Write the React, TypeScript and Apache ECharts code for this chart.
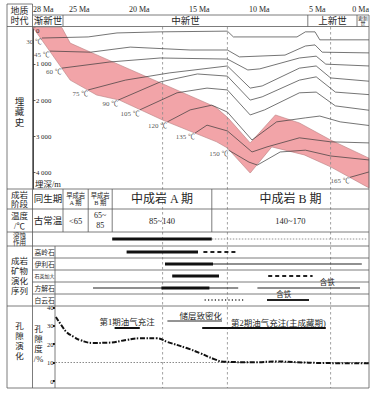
import React, { useEffect, useRef } from 'react';
import * as echarts from 'echarts';

// ---------------- data ----------------
const maTicks = [0, 5, 10, 15, 20, 25, 28];
const depthTicks = [0, 1000, 2000, 3000, 4000];

const epochNames = ['渐新世', '中新世', '上新世', '更新世'];
const epochBounds = [28, 25.5, 5.1, 1.0, 0];

const markerAges = [17.2, 11.8, 3.2];

// burial history of the formation: [Ma, depth m]
const formationTop = [
  [28, 0], [25.6, 0], [24.9, 430], [23.2, 680], [12.8, 2190], [11.75, 2490],
  [9.9, 3180], [7.8, 2410], [5.8, 2630], [3.2, 3100], [0, 3600],
];
const formationBase = [
  [28, 0], [24.9, 1450], [22.7, 1860], [20.8, 2000], [17.2, 2550], [12.7, 3150],
  [11.8, 3320], [9.9, 4010], [8.1, 3290], [5.4, 3510], [3.2, 3840], [0, 4420],
];

const isothermTemps = [30, 45, 60, 75, 90, 105, 120, 135, 150, 165];
const iso30 = [[27.25, 290], [23.4, 260], [21.0, 150], [17.4, 120], [11.8, 100], [11.3, 260], [6.0, 260], [5.3, 120], [4.5, 120], [4.1, 340], [0, 340]];
const iso45 = [[26.6, 650], [23.2, 680], [19.9, 540], [14.9, 620], [11.8, 620], [10.8, 810], [7.0, 760], [5.3, 510], [4.5, 480], [3.9, 680], [0, 700]];
const iso60 = [[25.6, 1120], [21.6, 950], [17.4, 840], [11.8, 870], [10.1, 1170], [9.1, 1140], [5.8, 840], [4.4, 790], [3.6, 1010], [0, 1060]];
const iso75 = [[23.4, 1720], [20.3, 1450], [16.6, 1250], [11.8, 1060], [9.9, 1670], [8.9, 1610], [5.8, 1120], [4.4, 1060], [3.2, 1390], [0, 1480]];
const iso90 = [[20.9, 2000], [17.4, 1500], [14.3, 1280], [11.8, 1340], [9.9, 2000], [8.9, 1910], [5.8, 1450], [4.4, 1360], [2.8, 1780], [0, 1850]];
const iso105 = [[19.1, 2270], [16.0, 1800], [13.5, 1670], [11.8, 1720], [9.9, 2410], [8.7, 2270], [5.8, 1800], [4.4, 1780], [2.8, 2160], [0, 2280]];
const iso120 = [[16.8, 2600], [14.9, 2270], [13.1, 2140], [11.8, 2330], [9.75, 3100], [7.7, 2600], [5.3, 2490], [4.1, 2440], [2.4, 2600], [0, 2700]];
const iso135 = [[14.5, 2910], [13.5, 2690], [11.8, 2850], [9.75, 3430], [8.5, 3290], [5.8, 3040], [3.2, 3150], [0, 3180]];
const iso150 = [[11.7, 3380], [10.0, 3710], [9.3, 3790], [7.4, 3430], [5.3, 3380], [3.2, 3540], [0, 3650]];
const iso165 = [[1.6, 4130], [0, 3980]];
const isotherms = [iso30, iso45, iso60, iso75, iso90, iso105, iso120, iso135, iso150, iso165];

const stageNames = ['同生期', '早成岩\nA 期', '早成岩\nB 期', '中成岩 A 期', '中成岩 B 期'];
const stageTemps = ['古常温', '<65', '65~\n85', '85~140', '140~170'];
const stageBounds = [28, 25.5, 23.4, 21.4, 13.1, 0];

const dissolutionLabel = ['溶蚀\n作用'];
const dissStart = [21.4, 13.1];
const dissEnd = [13.1, 0.2];
const dissKind = ['thick', 'faint'];

const minerals = ['高岭石', '伊利石', '石英加大', '方解石', '白云石'];
const segRow = [0, 0, 1, 1, 2, 2, 3, 3, 3, 4, 4];
const segStart = [20.2, 13.8, 17.0, 13.0, 16.4, 8.4, 23.0, 17.3, 9.3, 13.7, 8.5];
const segEnd = [14.25, 11.1, 13.0, 0.6, 12.5, 4.7, 10.9, 13.3, 0.75, 10.3, 5.0];
const segKind = ['thick', 'dashed', 'thick', 'thin', 'thick', 'dashed', 'thin', 'thick', 'thin', 'dotted', 'medium'];
const segNote = ['', '', '', '', '', '', '', '', '含铁', '', '含铁'];

const porosityAge = [26.1, 25.6, 25.2, 24.6, 24.1, 23.0, 21.8, 20.2, 19.1, 17.7, 16.8, 15.2, 14.1, 12.9, 12.1, 9.6, 7.7, 6.0, 4.1, 0];
const porosityValue = [34.8, 30.0, 26.6, 24.0, 22.3, 20.7, 20.8, 22.3, 23.2, 23.2, 21.2, 17.9, 15.2, 11.9, 10.5, 10.2, 10.6, 10.2, 9.8, 9.6];
const porosityRef = 10;

const eventNames = ['第1期油气充注', '储层致密化', '第2期油气充注(主成藏期)'];
const eventStart = [21.2, 16.8, 13.9];
const eventEnd = [19.1, 12.25, 3.6];

// ---------------- layout / style ----------------
const FONT = '"Liberation Serif","Noto Sans CJK SC",serif';
const INK = '#262626';
const RULE = '#5a5a5a';
const X0 = 7, XL = 32.5, XA = 33, XR = 369, XP = 55;
const PX_PER_MA = (XR - XA) / 28;
const POR_MAX_MA = 28 - (XP - XA) / PX_PER_MA;
const EPOCH_Y = 20.75;
const STAGE_Y1 = 199, STAGE_Y2 = 220.5, STAGE_TOP = 189, STAGE_BOT = 232;
const noteAnchor: any = { 8: 0.68, 10: 0.4 };
const eventLayout = [
  { barY: 328, textY: 322, w: 2, align: 'center' },
  { barY: 321, textY: 316, w: 0.9, align: 'right' },
  { barY: 328, textY: 322.5, w: 2, align: 'right' },
];
const kindStyle: any = {
  thick: { lineWidth: 3.2, stroke: '#111' },
  medium: { lineWidth: 2, stroke: '#222' },
  thin: { lineWidth: 1.1, stroke: '#222' },
  dashed: { lineWidth: 2, stroke: '#222', lineDash: [4, 3] },
  dotted: { lineWidth: 1.4, stroke: '#333', lineDash: [1.2, 2.2] },
  faint: { lineWidth: 0.8, stroke: '#777', lineDash: [1.5, 1.5] },
};

function ts(text: string, size: number, extra: any = {}) {
  return {
    text, fontSize: size, fontFamily: FONT, fill: INK,
    align: 'center', verticalAlign: 'middle', textAlign: 'center', textVerticalAlign: 'middle',
    lineHeight: size * 1.15, ...extra,
  };
}
function gtxt(x: number, y: number, text: string, size: number, extra: any = {}) {
  return { type: 'text', x, y, silent: true, z: 50, style: ts(text, size, extra) };
}
function gln(x1: number, y1: number, x2: number, y2: number, w = 0.8, color = RULE) {
  return { type: 'line', silent: true, z: 40, shape: { x1, y1, x2, y2 }, style: { stroke: color, lineWidth: w } };
}

function segmentRenderer(starts: number[], ends: number[], kinds: string[], rows: number[] | null, notes: string[] | null) {
  return (params: any, api: any) => {
    const i = params.dataIndex;
    const row = rows ? rows[i] : 0;
    const p1 = api.coord([starts[i], row]);
    const p2 = api.coord([ends[i], row]);
    const children: any[] = [
      { type: 'line', shape: { x1: p1[0], y1: p1[1], x2: p2[0], y2: p2[1] }, style: { ...kindStyle[kinds[i]] } },
    ];
    if (notes && notes[i]) {
      const r = noteAnchor[i] != null ? noteAnchor[i] : 0.5;
      children.push({ type: 'text', x: p1[0] + (p2[0] - p1[0]) * r, y: p1[1] - 6, style: ts(notes[i], 7.5) });
    }
    return { type: 'group', children };
  };
}

function buildOption() {
  const series: any[] = [];

  // formation band
  series.push({
    type: 'custom', xAxisIndex: 0, yAxisIndex: 0, z: 1, silent: true, clip: false,
    data: [[0, 0]],
    renderItem: (_p: any, api: any) => {
      const pts = formationTop.concat(formationBase.slice().reverse()).map((p) => api.coord(p));
      return { type: 'polygon', shape: { points: pts }, style: { fill: '#f2a4a8', stroke: '#b97d80', lineWidth: 0.6 } };
    },
  });

  // isotherms
  isotherms.forEach((pts) => {
    series.push({
      type: 'line', xAxisIndex: 0, yAxisIndex: 0, z: 3, silent: true, data: pts,
      symbol: 'none', lineStyle: { color: '#3a3a3a', width: 0.7 },
    });
  });
  series.push({
    type: 'scatter', xAxisIndex: 0, yAxisIndex: 0, z: 4, silent: true,
    symbol: 'circle', symbolSize: 0.1, itemStyle: { color: 'rgba(0,0,0,0)' },
    data: isotherms.map((pts, i) => ({ value: pts[0], name: `${isothermTemps[i]} ℃` })),
    label: {
      show: true, position: 'left', distance: 1, offset: [1, 4], formatter: '{b}',
      fontSize: 7, fontFamily: FONT, color: INK,
    },
  });

  // epochs row
  series.push({
    type: 'custom', xAxisIndex: 0, yAxisIndex: 0, z: 5, silent: true, clip: false,
    data: epochNames.map((_, i) => [epochBounds[i], 0]),
    renderItem: (params: any, api: any) => {
      const i = params.dataIndex;
      const x1 = api.coord([epochBounds[i], 0])[0];
      const x2 = api.coord([epochBounds[i + 1], 0])[0];
      const narrow = x2 - x1 < 20;
      const name = epochNames[i];
      const children: any[] = [{
        type: 'text', x: (x1 + x2) / 2, y: EPOCH_Y,
        style: narrow ? ts(name.slice(0, 2) + '\n' + name.slice(2), 5, { lineHeight: 5.5 }) : ts(name, 9.5),
      }];
      if (i < epochNames.length - 1) {
        children.push({ type: 'line', shape: { x1: x2, y1: 15, x2: x2, y2: 26.5 }, style: { stroke: RULE, lineWidth: 0.8 } });
      }
      return { type: 'group', children };
    },
  });

  // stages & temperatures
  series.push({
    type: 'custom', xAxisIndex: 4, yAxisIndex: 4, z: 6, silent: true, clip: false,
    data: stageNames.map((_, i) => [stageBounds[i], 0]),
    renderItem: (params: any, api: any) => {
      const i = params.dataIndex;
      const x1 = api.coord([stageBounds[i], 0])[0];
      const x2 = api.coord([stageBounds[i + 1], 0])[0];
      const cx = (x1 + x2) / 2;
      const nm = stageNames[i];
      const tp = stageTemps[i];
      const nmStyle = nm.indexOf('中成岩') >= 0 ? ts(nm, 12) : nm.indexOf('早成岩') >= 0 ? ts(nm, 6.3, { lineHeight: 7.5 }) : ts(nm, 9.5);
      const tpStyle = tp === '古常温' ? ts(tp, 9.5) : tp.indexOf('\n') >= 0 ? ts(tp, 8, { lineHeight: 10.5 }) : ts(tp, 8.5);
      const children: any[] = [
        { type: 'text', x: cx, y: STAGE_Y1, style: nmStyle },
        { type: 'text', x: cx, y: STAGE_Y2, style: tpStyle },
      ];
      if (i < stageNames.length - 1) {
        children.push({ type: 'line', shape: { x1: x2, y1: STAGE_TOP, x2: x2, y2: STAGE_BOT }, style: { stroke: RULE, lineWidth: 0.8 } });
      }
      return { type: 'group', children };
    },
  });

  // dashed time markers
  series.push({
    type: 'custom', xAxisIndex: 4, yAxisIndex: 4, z: 2, silent: true, clip: false,
    data: markerAges.map((a) => [a, 0]),
    renderItem: (params: any, api: any) => {
      const x = api.coord([markerAges[params.dataIndex], 0])[0];
      const cs = params.coordSys;
      return { type: 'line', shape: { x1: x, y1: cs.y, x2: x, y2: cs.y + cs.height }, style: { stroke: '#8a8a8a', lineWidth: 0.8, lineDash: [2.5, 2.5] } };
    },
  });

  // dissolution
  series.push({
    type: 'custom', xAxisIndex: 1, yAxisIndex: 1, z: 6, silent: true, clip: false,
    data: dissStart.map((s) => [s, 0]),
    renderItem: segmentRenderer(dissStart, dissEnd, dissKind, null, null),
  });

  // minerals
  series.push({
    type: 'custom', xAxisIndex: 2, yAxisIndex: 2, z: 6, silent: true, clip: false,
    data: segStart.map((s, i) => [s, segRow[i]]),
    renderItem: segmentRenderer(segStart, segEnd, segKind, segRow, segNote),
  });

  // porosity
  series.push({
    type: 'line', xAxisIndex: 3, yAxisIndex: 3, z: 6, silent: true, smooth: 0.5,
    data: porosityAge.map((a, i) => [a, porosityValue[i]]),
    symbol: 'none', lineStyle: { color: '#111', width: 2, type: [5, 1.5, 1.5, 1.5] },
    markLine: {
      silent: true, symbol: ['none', 'none'], label: { show: false },
      lineStyle: { color: '#8a8a8a', type: [1.5, 1.5], width: 1 },
      data: [{ yAxis: porosityRef }],
    },
  });

  // charging events
  series.push({
    type: 'custom', xAxisIndex: 3, yAxisIndex: 3, z: 7, silent: true, clip: false,
    data: eventStart.map((s) => [s, 0]),
    renderItem: (params: any, api: any) => {
      const i = params.dataIndex;
      const L = eventLayout[i];
      const x1 = api.coord([eventStart[i], 0])[0];
      const x2 = api.coord([eventEnd[i], 0])[0];
      const tx = L.align === 'center' ? (x1 + x2) / 2 : x2;
      return {
        type: 'group',
        children: [
          { type: 'line', shape: { x1, y1: L.barY, x2, y2: L.barY }, style: { stroke: '#111', lineWidth: L.w } },
          { type: 'text', x: tx, y: L.textY, style: ts(eventNames[i], 8.5, { align: L.align, textAlign: L.align }) },
        ],
      };
    },
  });

  const hiddenX = (grid: number, max = 28) => ({
    gridIndex: grid, type: 'value', min: 0, max, inverse: true, show: false,
    axisLine: { show: false, onZero: false },
    splitLine: { show: false },
  });

  const graphics: any[] = [
    // frame
    gln(X0, 4, XL, 4),
    gln(XL, 15, XR, 15),
    gln(X0, 26.5, XR, 26.5),
    gln(X0, 189, XR, 189),
    gln(X0, 209, XR, 209),
    gln(X0, 232, XR, 232),
    gln(X0, 246, XR, 246),
    gln(XL, 258, XR, 258),
    gln(XL, 270, XR, 270),
    gln(XL, 282, XR, 282),
    gln(XL, 294, XR, 294),
    gln(X0, 306, XR, 306),
    gln(X0, 388, XR, 388),
    gln(X0, 4, X0, 388),
    gln(XL, 4, XL, 388),
    gln(XR, 15, XR, 388),
    gln(XP, 246, XP, 388),
    // titles
    gtxt(19.5, 15.5, '地质\n时代', 9, { lineHeight: 10 }),
    gtxt(19.5, 112, '埋\n藏\n史', 9.5, { lineHeight: 10.5 }),
    gtxt(35, 184, '埋深/m', 8.5, { align: 'left', textAlign: 'left' }),
    gtxt(36, 30.8, String(depthTicks[0]), 6.8, { align: 'left', textAlign: 'left' }),
    gtxt(19.5, 199, '成岩\n阶段', 8.5, { lineHeight: 9 }),
    gtxt(19.5, 220.5, '温度\n/℃', 8.5, { lineHeight: 10 }),
    gtxt(19.5, 276, '成岩\n矿物\n演化\n序列', 8.5, { lineHeight: 10 }),
    gtxt(19.5, 341, '孔\n隙\n演\n化', 8.5, { lineHeight: 10 }),
    gtxt(38.5, 344, '孔\n隙\n度\n/%', 8.5, { lineHeight: 10 }),
  ];

  return {
    animation: false,
    backgroundColor: '#ffffff',
    textStyle: { fontFamily: FONT },
    grid: [
      { left: XA, top: 27.5, width: XR - XA, height: 161.5, outerBoundsMode: 'none' },
      { left: XA, top: 232, width: XR - XA, height: 14, outerBoundsMode: 'none' },
      { left: XA, top: 246, width: XR - XA, height: 60, outerBoundsMode: 'none' },
      { left: XP, top: 307.4, width: XR - XP, height: 73.6, outerBoundsMode: 'none' },
      { left: XA, top: 27, width: XR - XA, height: 361, outerBoundsMode: 'none' },
    ],
    xAxis: [
      {
        gridIndex: 0, type: 'value', min: 0, max: 28, interval: 5, inverse: true, position: 'top', offset: 12,
        axisLine: { show: false, onZero: false }, axisTick: { show: false }, splitLine: { show: false },
        axisLabel: {
          show: true, customValues: maTicks, formatter: (v: number) => `${v} Ma`,
          fontSize: 8, color: INK, fontFamily: FONT, margin: 2,
          align: 'left', alignMinLabel: 'right', alignMaxLabel: 'left', showMaxLabel: true, showMinLabel: true,
        },
      },
      hiddenX(1), hiddenX(2), hiddenX(3, POR_MAX_MA), hiddenX(4),
    ],
    yAxis: [
      {
        gridIndex: 0, type: 'value', min: 0, max: 4450, interval: 1000, inverse: true, position: 'left',
        axisLine: { show: true, onZero: false, lineStyle: { color: '#333', width: 0.9 } },
        axisTick: { show: true, inside: true, length: 2.5, customValues: depthTicks, lineStyle: { color: '#333', width: 0.8 } },
        axisLabel: {
          inside: true, customValues: depthTicks, margin: 3, fontSize: 6.8, color: INK, fontFamily: FONT,
          showMaxLabel: true,
          formatter: (v: number) => (v === 0 ? '' : `${Math.floor(v / 1000)} ${String(v % 1000).padStart(3, '0')}`),
        },
        splitLine: { show: false },
      },
      {
        gridIndex: 1, type: 'category', data: dissolutionLabel, inverse: true, position: 'left',
        axisLine: { show: false, onZero: false }, axisTick: { show: false }, splitLine: { show: false },
        axisLabel: { margin: 7, fontSize: 6.5, lineHeight: 7, color: INK, fontFamily: FONT },
      },
      {
        gridIndex: 2, type: 'category', data: minerals, inverse: true, position: 'left',
        axisLine: { show: false, onZero: false }, axisTick: { show: false }, splitLine: { show: false },
        axisLabel: {
          inside: true, margin: 1.5, fontSize: 6.8, color: INK, fontFamily: FONT,
          formatter: (v: string) => (v.length > 3 ? `{s|${v}}` : v),
          rich: { s: { fontSize: 5, fontFamily: FONT, color: INK } },
        },
      },
      {
        gridIndex: 3, type: 'value', min: 0, max: 40, interval: 10, position: 'left',
        axisLine: { show: false, onZero: false },
        axisTick: { show: true, length: 2, lineStyle: { width: 2.2, color: '#111' } },
        axisLabel: { fontSize: 6.5, margin: 1.5, color: INK, fontFamily: FONT },
        splitLine: { show: false },
      },
      { gridIndex: 4, type: 'value', min: 0, max: 1, show: false, position: 'left', axisLine: { show: false, onZero: false }, splitLine: { show: false } },
    ],
    graphic: graphics,
    series,
  };
}

export default function App() {
  const ref = useRef<HTMLDivElement>(null);
  useEffect(() => {
    const chart = echarts.init(ref.current as HTMLDivElement, null, { renderer: 'svg' });
    chart.setOption(buildOption() as any);
    return () => chart.dispose();
  }, []);
  return (
    <div style={{ position: 'fixed', left: 0, top: 0, width: 387, height: 402, background: '#fff' }}>
      <div ref={ref} style={{ width: 387, height: 402 }} />
    </div>
  );
}
